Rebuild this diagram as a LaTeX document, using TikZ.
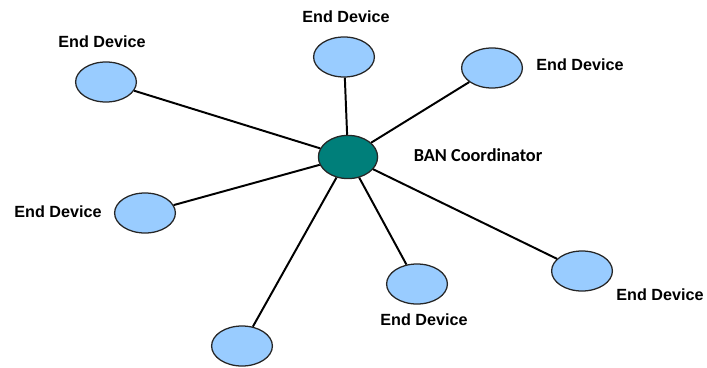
\documentclass[tikz,border=0pt]{standalone}
\usepackage{fontspec}
\setmainfont{Liberation Sans}
\newfontfamily\calfont{Carlito}
\usepackage{tikz}
\usetikzlibrary{shapes.geometric}

\definecolor{devblue}{HTML}{99CCFF}
\definecolor{banteal}{HTML}{007F7A}

\begin{document}
\begin{tikzpicture}[x=0.025cm,y=-0.025cm,
  device/.style={ellipse,draw=black!85,line width=0.9pt,fill=devblue,
    minimum width=1.52cm,minimum height=1.0cm,inner sep=0pt},
  coord/.style={ellipse,draw=black!85,line width=0.9pt,fill=banteal,
    minimum width=1.48cm,minimum height=1.08cm,inner sep=0pt},
  devlabel/.style={font=\fontsize{11.5}{13}\selectfont\bfseries},
  link/.style={line width=1.4pt}]
\useasboundingbox (0,0) rectangle (707,367);
% coordinator
\node[coord] (ban) at (348,157) {};
\node[font=\calfont\fontsize{13}{15}\selectfont\bfseries] (banlabel) at (478,155) {BAN Coordinator};
% end devices
\node[device] (ed1) at (106,82) {};
\node[device] (ed2) at (344,57) {};
\node[device] (ed3) at (492,68) {};
\node[device] (ed4) at (145,213) {};
\node[device] (ed5) at (417,284) {};
\node[device] (ed6) at (582,271) {};
\node[device] (ed7) at (242,346) {};
% labels
\node[devlabel] (lab1) at (102,42) {End Device};
\node[devlabel] (lab2) at (346,17) {End Device};
\node[devlabel] (lab3) at (580,65) {End Device};
\node[devlabel] (lab4) at (58,212) {End Device};
\node[devlabel] (lab5) at (424,320) {End Device};
\node[devlabel] (lab6) at (660,295) {End Device};
% links
\draw[link] (ban) -- (ed1);
\draw[link] (ban) -- (ed2);
\draw[link] (ban) -- (ed3);
\draw[link] (ban) -- (ed4);
\draw[link] (ban) -- (ed5);
\draw[link] (ban) -- (ed6);
\draw[link] (ban) -- (ed7);
\end{tikzpicture}
\end{document}
